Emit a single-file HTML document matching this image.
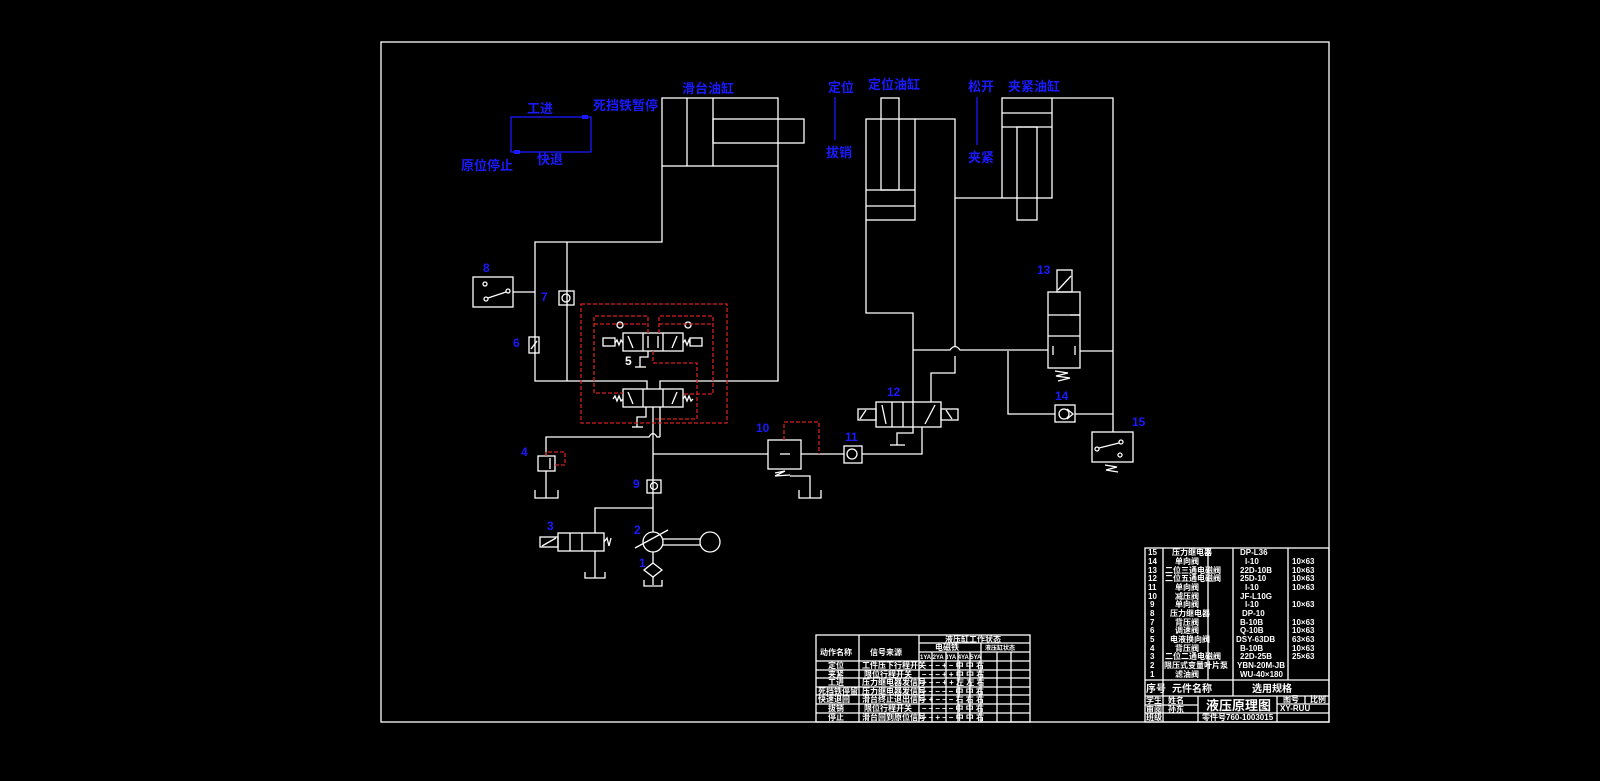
<!DOCTYPE html>
<html><head><meta charset="utf-8"><style>
html,body{margin:0;padding:0;background:#000;width:1600px;height:781px;overflow:hidden}
svg{display:block}
text{font-family:"Liberation Sans","Noto Sans CJK SC",sans-serif;font-weight:bold}
.b{fill:#1a1aff}
.w{fill:#fff}
</style></head><body>
<svg width="1600" height="781" viewBox="0 0 1600 781" xmlns="http://www.w3.org/2000/svg">
<rect width="1600" height="781" fill="#000"/>
<g fill="none" stroke="#fff" stroke-width="1.3">
<!-- frame -->
<rect x="381" y="42" width="948" height="680"/>
<!-- slide cylinder -->
<rect x="662" y="98" width="116" height="68"/>
<line x1="687" y1="98" x2="687" y2="166"/><line x1="713" y1="98" x2="713" y2="166"/>
<rect x="713" y="119" width="91" height="24"/>
<polyline points="662,166 662,242 535,242 535,381 647,381 647,389"/>
<line x1="567" y1="242" x2="567" y2="381"/>
<polyline points="778,166 778,381 660,381 660,389"/>
<!-- switch 8 -->
<rect x="473" y="277" width="40" height="30"/>
<line x1="513" y1="292" x2="535" y2="292"/>
<circle cx="485" cy="284" r="2"/><circle cx="486" cy="299" r="2"/><circle cx="508" cy="291" r="2"/>
<line x1="488" y1="298" x2="506" y2="292"/>
<!-- check 7 -->
<rect x="559" y="291" width="15" height="14"/><circle cx="566" cy="298" r="4"/>
<!-- 6 -->
<rect x="529" y="337" width="10" height="16"/><line x1="531" y1="349" x2="537" y2="341"/>
<!-- valve 5 upper -->
<rect x="623" y="333" width="60" height="18"/>
<line x1="643" y1="333" x2="643" y2="351"/><line x1="663" y1="333" x2="663" y2="351"/>
<line x1="628" y1="336" x2="633" y2="348"/><line x1="677" y1="336" x2="672" y2="348"/>
<line x1="648" y1="336" x2="648" y2="348"/><line x1="658" y1="336" x2="658" y2="348"/>
<rect x="603" y="338" width="12" height="8"/><rect x="690" y="338" width="12" height="8"/>
<polyline points="615,343 617,340 619,345 621,340 623,343"/>
<polyline points="683,343 685,340 687,345 689,340 690,343"/>
<circle cx="620" cy="325" r="3"/><circle cx="688" cy="325" r="3"/>
<polyline points="648,351 648,357 640,357 640,367"/><line x1="635" y1="367" x2="646" y2="367"/>
<!-- valve 5 lower -->
<rect x="623" y="389" width="60" height="18"/>
<line x1="643" y1="389" x2="643" y2="407"/><line x1="663" y1="389" x2="663" y2="407"/>
<line x1="628" y1="392" x2="633" y2="404"/><line x1="677" y1="392" x2="672" y2="404"/>
<polyline points="613,399 615,396 617,401 619,396 621,401 623,399"/>
<polyline points="683,399 685,396 687,401 689,396 691,401 693,399"/>
<polyline points="646,407 646,417 637,417 637,427"/><line x1="632" y1="427" x2="643" y2="427"/>
<line x1="653" y1="407" x2="653" y2="532"/>
<polyline points="660,407 660,437"/>
<path d="M546,456 L546,437 L649,437 Q653,430 657,437 L660,437"/>
<!-- relief 4 -->
<rect x="538" y="456" width="17" height="15"/><line x1="550" y1="458" x2="550" y2="469"/>
<line x1="546" y1="471" x2="546" y2="498"/><polyline points="535,490 535,498 558,498 558,490"/>
<!-- line to valve 10 and 11 -->
<line x1="653" y1="454" x2="768" y2="454"/><line x1="801" y1="454" x2="844" y2="454"/>
<rect x="768" y="440" width="33" height="29"/><line x1="780" y1="454" x2="790" y2="454"/>
<polyline points="775,473 785,471 775,476 790,475"/>
<polyline points="790,476 810,476 810,498"/><polyline points="799,490 799,498 821,498 821,490"/>
<!-- check 9 -->
<rect x="647" y="480" width="14" height="13"/><circle cx="654" cy="486" r="3.5"/>
<!-- valve 3 -->
<polyline points="653,508 595,508 595,533"/>
<rect x="558" y="533" width="46" height="18"/>
<line x1="570" y1="533" x2="570" y2="551"/><line x1="582" y1="533" x2="582" y2="551"/>
<rect x="540" y="537" width="18" height="10"/><line x1="542" y1="546" x2="556" y2="538"/>
<polyline points="604,542 607,538 609,546 611,538"/>
<line x1="595" y1="551" x2="595" y2="578"/><polyline points="585,572 585,578 605,578 605,572"/>
<!-- pump/motor -->
<circle cx="653" cy="542" r="10"/><circle cx="710" cy="542" r="10"/>
<line x1="663" y1="539" x2="700" y2="539"/><line x1="663" y1="545" x2="700" y2="545"/>
<line x1="635" y1="548" x2="668" y2="530"/>
<line x1="653" y1="552" x2="653" y2="563"/>
<polygon points="653,563 662,570 653,577 644,570"/>
<line x1="653" y1="577" x2="653" y2="585"/><polyline points="644,580 644,586 662,586 662,580"/>
<!-- locating cylinder -->
<rect x="881" y="98" width="18" height="92"/>
<rect x="866" y="119" width="49" height="101"/>
<line x1="866" y1="190" x2="915" y2="190"/><line x1="866" y1="206" x2="915" y2="206"/>
<polyline points="915,119 955,119 955,346"/>
<path d="M955,356 L955,373 L931,373 L931,402"/>
<polyline points="866,220 866,313 913,313 913,402"/>
<path d="M913,350 L950,350 Q955,343 960,350 L1048,350"/>
<line x1="1080" y1="351" x2="1113" y2="351"/>
<!-- clamp cylinder -->
<rect x="1002" y="98" width="50" height="100"/>
<line x1="1002" y1="113" x2="1052" y2="113"/><line x1="1002" y1="127" x2="1052" y2="127"/>
<rect x="1017" y="127" width="20" height="93"/>
<line x1="955" y1="198" x2="1002" y2="198"/>
<polyline points="1052,98 1113,98 1113,432"/>
<!-- valve 13 -->
<rect x="1048" y="292" width="32" height="76"/>
<line x1="1048" y1="315" x2="1080" y2="315"/><line x1="1048" y1="336" x2="1080" y2="336"/>
<line x1="1070" y1="315" x2="1080" y2="315"/>
<rect x="1057" y="270" width="15" height="22"/><line x1="1058" y1="290" x2="1071" y2="276"/>
<line x1="1053" y1="346" x2="1053" y2="355"/><line x1="1075" y1="346" x2="1075" y2="355"/>
<polyline points="1055,371 1068,373 1056,376 1070,378 1058,381"/>
<!-- check 14 -->
<polyline points="1008,351 1008,414 1055,414"/><line x1="1075" y1="414" x2="1113" y2="414"/>
<rect x="1055" y="405" width="20" height="17"/><circle cx="1064" cy="414" r="5"/>
<polyline points="1067,409 1073,414 1067,419"/>
<!-- switch 15 -->
<rect x="1092" y="432" width="41" height="30"/>
<circle cx="1097" cy="449" r="2"/><circle cx="1121" cy="442" r="2"/><circle cx="1120" cy="455" r="2"/>
<line x1="1099" y1="448" x2="1119" y2="443"/>
<polyline points="1105,465 1117,467 1106,470 1118,472"/>
<!-- valve 12 -->
<rect x="876" y="402" width="65" height="25"/>
<line x1="892" y1="402" x2="892" y2="427"/><line x1="903" y1="402" x2="903" y2="427"/><line x1="913" y1="402" x2="913" y2="427"/>
<line x1="882" y1="405" x2="886" y2="424"/><line x1="935" y1="405" x2="925" y2="424"/>
<rect x="858" y="409" width="18" height="11"/><line x1="860" y1="419" x2="866" y2="410"/>
<rect x="941" y="409" width="17" height="11"/><line x1="946" y1="410" x2="952" y2="419"/>
<polyline points="913,427 913,433 897,433 897,445"/><line x1="890" y1="445" x2="905" y2="445"/>
<polyline points="922,427 922,454 862,454"/>
<rect x="844" y="446" width="18" height="17"/><circle cx="852" cy="454" r="5"/>
<!-- right table -->
<rect x="1145" y="548" width="184" height="174"/>
<line x1="1163" y1="548" x2="1163" y2="722"/>
<line x1="1208" y1="548" x2="1208" y2="680"/>
<line x1="1233" y1="548" x2="1233" y2="696"/>
<line x1="1288" y1="548" x2="1288" y2="680"/>
<line x1="1198" y1="696" x2="1198" y2="722"/>
<line x1="1277" y1="696" x2="1277" y2="722"/>
<line x1="1305" y1="696" x2="1305" y2="704"/>
<line x1="1145" y1="680" x2="1329" y2="680"/>
<line x1="1145" y1="696" x2="1329" y2="696"/>
<line x1="1145" y1="705" x2="1198" y2="705"/>
<line x1="1145" y1="713" x2="1329" y2="713"/>
<line x1="1277" y1="704" x2="1329" y2="704"/>
<!-- left table -->
<rect x="816" y="635" width="214" height="87"/>
<line x1="859" y1="635" x2="859" y2="722"/>
<line x1="919" y1="635" x2="919" y2="722"/>
<line x1="932" y1="652" x2="932" y2="722"/><line x1="946" y1="652" x2="946" y2="722"/>
<line x1="958" y1="652" x2="958" y2="722"/><line x1="970" y1="652" x2="970" y2="722"/>
<line x1="981" y1="643" x2="981" y2="722"/><line x1="997" y1="652" x2="997" y2="722"/>
<line x1="1011" y1="652" x2="1011" y2="722"/>
<line x1="919" y1="643" x2="1030" y2="643"/><line x1="919" y1="652" x2="1030" y2="652"/>
<line x1="816" y1="661" x2="1030" y2="661"/><line x1="816" y1="670" x2="1030" y2="670"/>
<line x1="816" y1="678" x2="1030" y2="678"/><line x1="816" y1="687" x2="1030" y2="687"/>
<line x1="816" y1="695" x2="1030" y2="695"/><line x1="816" y1="704" x2="1030" y2="704"/>
<line x1="816" y1="713" x2="1030" y2="713"/>
</g>
<!-- red dashed -->
<g fill="none" stroke="#d42020" stroke-width="1.3" stroke-dasharray="4,2">
<rect x="581" y="304" width="146" height="119"/>
<polyline points="648,333 648,316 594,316 594,393 623,393"/>
<line x1="594" y1="324" x2="648" y2="324"/>
<polyline points="659,333 659,316 713,316 713,394 683,394"/>
<line x1="659" y1="324" x2="713" y2="324"/>
<polyline points="653,351 653,363 697,363 697,419 653,419"/>
<polyline points="546,456 546,452 565,452 565,465 555,465"/>
<polyline points="784,440 784,422 819,422 819,454"/>
</g>
<!-- blue sequence diagram -->
<g fill="none" stroke="#1a1aff" stroke-width="1.3">
<rect x="511" y="117" width="80" height="35"/>
<line x1="835" y1="97" x2="835" y2="140"/>
<line x1="977" y1="97" x2="977" y2="145"/>
</g>
<rect x="582" y="115" width="6" height="4" fill="#1a1aff"/>
<rect x="514" y="150" width="6" height="4" fill="#1a1aff"/>
<g class="b" font-size="13">
<text x="682" y="93">滑台油缸</text>
<text x="527" y="113">工进</text>
<text x="593" y="110">死挡铁暂停</text>
<text x="461" y="170">原位停止</text>
<text x="537" y="164">快退</text>
<text x="828" y="92">定位</text>
<text x="826" y="157">拔销</text>
<text x="868" y="89">定位油缸</text>
<text x="968" y="91">松开</text>
<text x="968" y="162">夹紧</text>
<text x="1008" y="91">夹紧油缸</text>
</g>
<g class="b" font-size="12">
<text x="483" y="272">8</text><text x="541" y="301">7</text><text x="513" y="347">6</text>
<text x="521" y="456">4</text><text x="547" y="530">3</text><text x="634" y="534">2</text>
<text x="639" y="567">1</text><text x="633" y="488">9</text><text x="756" y="432">10</text>
<text x="845" y="441">11</text><text x="887" y="396">12</text><text x="1037" y="274">13</text>
<text x="1055" y="400">14</text><text x="1132" y="426">15</text>
</g>
<text x="625" y="365" class="w" font-size="12">5</text>
<!-- right table text -->
<g class="w" font-size="8">
<text x="1148" y="555">15</text><text x="1172" y="555">压力继电器</text><text x="1240" y="555">DP-L36</text>
<text x="1148" y="564">14</text><text x="1175" y="564">单向阀</text><text x="1245" y="564">I-10</text><text x="1292" y="564">10×63</text>
<text x="1148" y="573">13</text><text x="1165" y="573">二位三通电磁阀</text><text x="1240" y="573">22D-10B</text><text x="1292" y="573">10×63</text>
<text x="1148" y="581">12</text><text x="1165" y="581">二位五通电磁阀</text><text x="1240" y="581">25D-10</text><text x="1292" y="581">10×63</text>
<text x="1148" y="590">11</text><text x="1175" y="590">单向阀</text><text x="1245" y="590">I-10</text><text x="1292" y="590">10×63</text>
<text x="1148" y="599">10</text><text x="1175" y="599">减压阀</text><text x="1240" y="599">JF-L10G</text>
<text x="1150" y="607">9</text><text x="1175" y="607">单向阀</text><text x="1245" y="607">I-10</text><text x="1292" y="607">10×63</text>
<text x="1150" y="616">8</text><text x="1170" y="616">压力继电器</text><text x="1242" y="616">DP-10</text>
<text x="1150" y="625">7</text><text x="1175" y="625">背压阀</text><text x="1240" y="625">B-10B</text><text x="1292" y="625">10×63</text>
<text x="1150" y="633">6</text><text x="1175" y="633">调速阀</text><text x="1240" y="633">Q-10B</text><text x="1292" y="633">10×63</text>
<text x="1150" y="642">5</text><text x="1170" y="642">电液换向阀</text><text x="1236" y="642">DSY-63DB</text><text x="1292" y="642">63×63</text>
<text x="1150" y="651">4</text><text x="1175" y="651">背压阀</text><text x="1240" y="651">B-10B</text><text x="1292" y="651">10×63</text>
<text x="1150" y="659">3</text><text x="1165" y="659">二位二通电磁阀</text><text x="1240" y="659">22D-25B</text><text x="1292" y="659">25×63</text>
<text x="1150" y="668">2</text><text x="1164" y="668">限压式变量叶片泵</text><text x="1237" y="668">YBN-20M-JB</text>
<text x="1150" y="677">1</text><text x="1175" y="677">滤油阀</text><text x="1240" y="677">WU-40×180</text>
<text x="1146" y="692" font-size="10">序号</text><text x="1172" y="692" font-size="10">元件名称</text><text x="1252" y="692" font-size="10">选用规格</text>
<text x="1146" y="703">学生</text><text x="1168" y="703">姓名</text>
<text x="1146" y="712">审阅</text><text x="1168" y="712">孙东</text>
<text x="1146" y="720">班级</text>
<text x="1206" y="710" font-size="13">液压原理图</text>
<text x="1202" y="720">零件号760-1003015</text>
<text x="1283" y="702">图号</text><text x="1310" y="702">比例</text>
<text x="1280" y="711">XY-RUU</text>
</g>
<!-- left table text -->
<g class="w" font-size="8">
<text x="945" y="642">液压缸工作状态</text>
<text x="935" y="650">电磁铁</text><text x="985" y="650" font-size="6">液压缸状态</text>
<text x="920" y="659" font-size="6">1YA 2YA 3YA 4YA 5YA</text>
<text x="820" y="655">动作名称</text><text x="870" y="655">信号来源</text>
<text x="828" y="668">定位</text><text x="862" y="668">工件压下行程开关</text>
<text x="828" y="677">夹紧</text><text x="864" y="677">限位行程开关</text>
<text x="828" y="685">工进</text><text x="862" y="685">压力继电器发信号</text>
<text x="818" y="694">死挡铁停留</text><text x="862" y="694">压力继电器发信号</text>
<text x="818" y="702">快速退回</text><text x="862" y="702">滑台终止退出信号</text>
<text x="828" y="711">拔销</text><text x="864" y="711">限位行程开关</text>
<text x="828" y="720">停止</text><text x="862" y="720">滑台回到原位信号</text>
<text x="922" y="668">– – – + – 中 中 右</text>
<text x="922" y="677">– – – + + 中 中 右</text>
<text x="922" y="685">+ – – + + 左 左 右</text>
<text x="922" y="694">– – – – – 中 中 右</text>
<text x="922" y="702">– + – – – 右 右 右</text>
<text x="922" y="711">– – – – – 中 中 右</text>
<text x="922" y="720">– – + – – 中 中 右</text>
</g>
</svg>
</body></html>
